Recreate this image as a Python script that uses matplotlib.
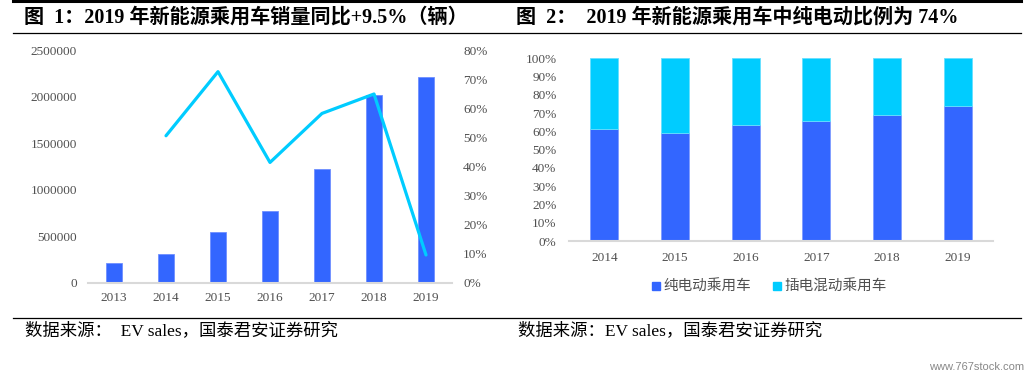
import matplotlib
matplotlib.use("Agg")
import matplotlib.pyplot as plt
from matplotlib.lines import Line2D
import numpy as np

# ---- data ----
years_left = ["2013", "2014", "2015", "2016", "2017", "2018", "2019"]
sales = [205000, 312000, 540000, 768000, 1224000, 2020000, 2210000]
growth_years = ["2014", "2015", "2016", "2017", "2018", "2019"]
growth = [0.506, 0.727, 0.414, 0.583, 0.650, 0.095]
left_yticks = [0, 500000, 1000000, 1500000, 2000000, 2500000]
right_yticks = [0, 0.1, 0.2, 0.3, 0.4, 0.5, 0.6, 0.7, 0.8]

years_right = ["2014", "2015", "2016", "2017", "2018", "2019"]
bev_share = [0.615, 0.593, 0.637, 0.657, 0.688, 0.74]
phev_share = [1 - v for v in bev_share]
share_ticks = [0, 0.1, 0.2, 0.3, 0.4, 0.5, 0.6, 0.7, 0.8, 0.9, 1.0]
legend_labels = ["纯电动乘用车", "插电混动乘用车"]

title_left = "图  1：2019 年新能源乘用车销量同比+9.5%（辆）"
title_right = "图  2：  2019 年新能源乘用车中纯电动比例为 74%"
source_left = "数据来源：  EV sales，国泰君安证券研究"
source_right = "数据来源：EV sales，国泰君安证券研究"
watermark = "www.767stock.com"

# ---- style ----
W, H = 1029, 377
DPI = 100
BLUE = "#3366FF"
CYAN = "#00CCFF"
TICK = "#505050"
AXIS = "#D9D9D9"
SERIF = ["Liberation Serif", "Noto Sans CJK SC"]
plt.rcParams["font.family"] = SERIF

fig = plt.figure(figsize=(W / DPI, H / DPI), dpi=DPI)


def ax_rect(x0, y0, x1, y1):
    return [x0 / W, 1 - y1 / H, (x1 - x0) / W, (y1 - y0) / H]


# ---- left chart ----
ax = fig.add_axes(ax_rect(88, 50.5, 452, 282.5))
x = np.arange(len(years_left))
ax.bar(x, sales, width=0.31, color=BLUE, edgecolor="#6f8fff", linewidth=0.6, zorder=2)
ax.set_xlim(-0.5, len(years_left) - 0.5)
ax.set_ylim(0, 2500000)
ax.set_yticks(left_yticks)
ax.set_yticklabels([str(v) for v in left_yticks])
ax.set_xticks(x)
ax.set_xticklabels(years_left)
for s in ["top", "right", "left"]:
    ax.spines[s].set_visible(False)
ax.spines["bottom"].set_color(AXIS)
ax.spines["bottom"].set_linewidth(1.5)
ax.tick_params(axis="both", length=0, labelsize=9.5, labelcolor=TICK)
ax.tick_params(axis="y", pad=8)
ax.tick_params(axis="x", pad=7)

ax2 = ax.twinx()
gx = [years_left.index(y) for y in growth_years]
ax2.plot(gx, growth, color=CYAN, linewidth=2.3, zorder=3, solid_capstyle="round")
ax2.set_ylim(0, 0.8)
ax2.set_yticks(right_yticks)
ax2.set_yticklabels([f"{int(round(v*100))}%" for v in right_yticks])
for s in ["top", "right", "left", "bottom"]:
    ax2.spines[s].set_visible(False)
ax2.tick_params(axis="y", length=0, labelsize=9.5, labelcolor=TICK, pad=8)

# ---- right chart ----
bx = fig.add_axes(ax_rect(569, 58.3, 993, 241))
xr = np.arange(len(years_right))
bx.bar(xr, bev_share, width=0.4, color=BLUE, edgecolor="#7f9cff", linewidth=0.6,
       label=legend_labels[0], zorder=2)
bx.bar(xr, phev_share, width=0.4, bottom=bev_share, color=CYAN, edgecolor="#66e0ff",
       linewidth=0.6, label=legend_labels[1], zorder=2)
bx.set_xlim(-0.5, len(years_right) - 0.5)
bx.set_ylim(0, 1.0)
bx.set_yticks(share_ticks)
bx.set_yticklabels([f"{int(round(v*100))}%" for v in share_ticks])
bx.set_xticks(xr)
bx.set_xticklabels(years_right)
for s in ["top", "right", "left"]:
    bx.spines[s].set_visible(False)
bx.spines["bottom"].set_color(AXIS)
bx.spines["bottom"].set_linewidth(1.5)
bx.tick_params(axis="both", length=0, labelsize=9.5, labelcolor=TICK)
bx.tick_params(axis="y", pad=9)
bx.tick_params(axis="x", pad=8)

leg = bx.legend(handles=[
    Line2D([], [], marker="s", linestyle="none", markersize=6, color=BLUE, label=legend_labels[0]),
    Line2D([], [], marker="s", linestyle="none", markersize=6, color=CYAN, label=legend_labels[1]),
], loc="upper center", bbox_to_anchor=(0.47, -0.14), ncol=2, frameon=False,
    handletextpad=0.1, columnspacing=1.4, handlelength=0.8,
    prop={"family": ["Noto Sans CJK SC"], "size": 10.5})
for t in leg.get_texts():
    t.set_color(TICK)

# ---- titles, rules, sources ----
fig.add_artist(Line2D([13 / W, 1021 / W], [1 - 1 / H, 1 - 1 / H], color="black", linewidth=2.2))
fig.add_artist(Line2D([13 / W, 1021 / W], [1 - 33 / H, 1 - 33 / H], color="black", linewidth=0.9))
fig.add_artist(Line2D([13 / W, 1021 / W], [1 - 318 / H, 1 - 318 / H], color="black", linewidth=0.9))

fig.text(24 / W, 1 - 18 / H, title_left, fontsize=14.5, fontweight="bold",
         va="center", ha="left", family=SERIF, color="black")
fig.text(516 / W, 1 - 18 / H, title_right, fontsize=14.5, fontweight="bold",
         va="center", ha="left", family=SERIF, color="black")
fig.text(25 / W, 1 - 331 / H, source_left, fontsize=12.5, va="center", ha="left",
         family=SERIF, color="black")
fig.text(518 / W, 1 - 331 / H, source_right, fontsize=12.5, va="center", ha="left",
         family=SERIF, color="black")
fig.text(1024 / W, 1 - 367 / H, watermark, fontsize=8, va="center", ha="right",
         family=["Liberation Sans Narrow", "Liberation Sans"], color="#888888")

fig.savefig("out.png", dpi=DPI)
